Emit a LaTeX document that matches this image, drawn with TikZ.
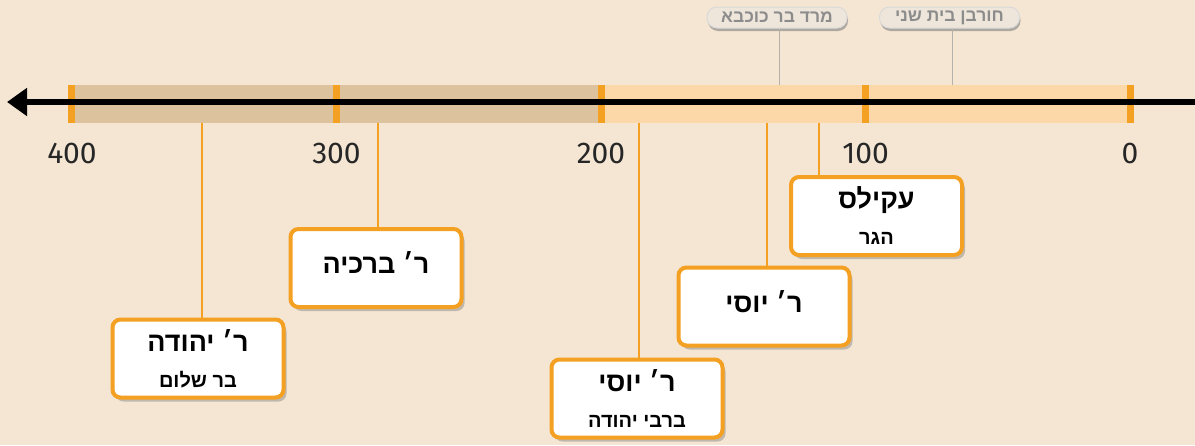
\documentclass[tikz,border=0pt]{standalone}
\usepackage{fontspec}
\setmainfont{Fira Sans}
\newfontfamily\hebfont[Script=Hebrew]{Liberation Sans}
\TeXXeTstate=1
\usetikzlibrary{arrows.meta,shadows}

\definecolor{bgcol}{HTML}{F5E6D3}
\definecolor{banddark}{HTML}{DDC39D}
\definecolor{bandlight}{HTML}{FCD8A8}
\definecolor{tlorange}{HTML}{F4A023}
\definecolor{pillfill}{HTML}{EFE6DB}
\definecolor{pilltext}{HTML}{8C8C8C}
\definecolor{evgray}{HTML}{B5B1AB}

\newcommand{\heb}[1]{{\hebfont\bfseries\beginR #1\endR}}
\newcommand{\namebig}[1]{{\fontsize{27}{36}\selectfont\heb{#1}}}
\newcommand{\namesmall}[1]{{\fontsize{20}{36}\selectfont\heb{#1}}}
\newcommand{\onedepth}{\rule[-10pt]{0pt}{0pt}}

\begin{document}
\begin{tikzpicture}[x=1pt,y=-1pt,
  box/.style={draw=tlorange, line width=4pt, fill=white, rounded corners=8pt,
    minimum width=171pt, minimum height=78pt, align=center, inner sep=0pt,
    font=\fontsize{27}{36}\selectfont,
    drop shadow={shadow xshift=3pt, shadow yshift=-4pt, opacity=.45}},
  pill/.style={draw=black!15, line width=1pt, fill=pillfill, rounded corners=10pt,
    minimum width=140pt, minimum height=21pt, inner sep=0pt, text=pilltext,
    font=\fontsize{17.5}{19}\selectfont,
    drop shadow={shadow xshift=1pt, shadow yshift=-3pt, opacity=.6}},
  conn/.style={tlorange, line width=1.5pt},
  evline/.style={evgray, line width=1pt},
  num/.style={anchor=base, text=black!85, font=\fontsize{30}{34}\selectfont}]

  \useasboundingbox (0,0) rectangle (1195,445);
  \fill[bgcol] (0,0) rectangle (1195,445);

  % time band
  \fill[banddark] (72,85) rectangle (601,123);
  \fill[bandlight] (601,85) rectangle (1130,123);
  \foreach \yr in {0,100,200,300,400} {
    \fill[tlorange] ({1130-2.645*\yr-3.5},85) rectangle ++(7,38);
    \node[num] at ({1130-2.645*\yr},163) {\yr};
  }
  \coordinate (lineR) at (1195,102);
  \coordinate (lineL) at (7,102);
  \draw[line width=6pt, -{Triangle[length=20pt,width=27pt]}] (lineR) -- (lineL);

  % events
  \node[pill] (kochba) at (777,17.5) {\heb{מרד בר כוכבא}};
  \node[pill] (churban) at (949.5,17.5) {\heb{חורבן בית שני}};
  \coordinate (kochbaT) at (779,85);
  \coordinate (churbanT) at (952,85);
  \draw[evline] (kochba.south -| kochbaT) -- (kochbaT);
  \draw[evline] (churban.south -| churbanT) -- (churbanT);

  % sages
  \coordinate (yehudaT) at (202,123);
  \coordinate (berechyaT) at (378,123);
  \coordinate (yosibyT) at (639,123);
  \coordinate (yosiT) at (767,123);
  \coordinate (akilasT) at (819,123);

  \node[box] (yehuda) at (198,358.5) {\namebig{ר׳ יהודה}\\\namesmall{בר שלום}};
  \node[box] (berechya) at (376,268) {\namebig{ר׳ ברכיה}\onedepth};
  \node[box] (yosiby) at (637,398.5) {\namebig{ר׳ יוסי}\\\namesmall{ברבי יהודה}};
  \node[box] (yosi) at (764,306.5) {\namebig{ר׳ יוסי}\onedepth};
  \node[box] (akilas) at (876.5,216) {\namebig{עקילס}\\\namesmall{הגר}};

  \draw[conn] (yehudaT) -- (yehudaT |- yehuda.north);
  \draw[conn] (berechyaT) -- (berechyaT |- berechya.north);
  \draw[conn] (yosibyT) -- (yosibyT |- yosiby.north);
  \draw[conn] (yosiT) -- (yosiT |- yosi.north);
  \draw[conn] (akilasT) -- (akilasT |- akilas.north);
\end{tikzpicture}
\end{document}
